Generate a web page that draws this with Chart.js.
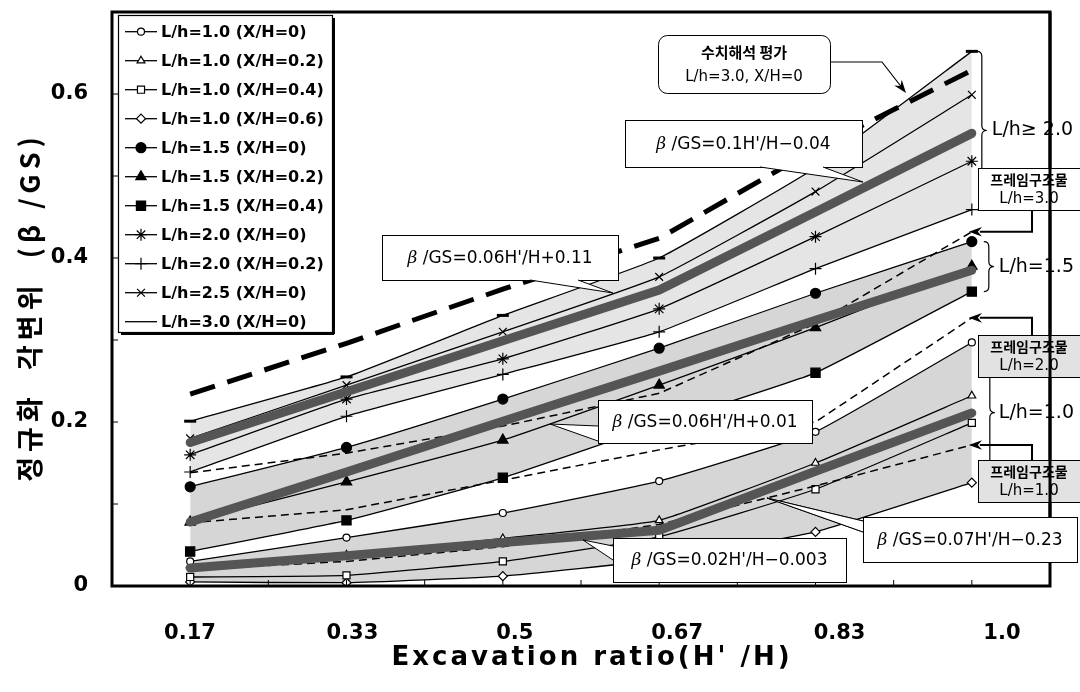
<!DOCTYPE html>
<html>
<head>
<meta charset="utf-8">
<script src="https://cdn.jsdelivr.net/npm/chart.js@4.4.0/dist/chart.umd.min.js"></script>
<style>
html, body { margin: 0; padding: 0; background: #fff; }
</style>
</head>
<body>
<canvas id="myChart" width="1080" height="692"></canvas>
<script>
// excavation ratio H'/H (where the points sit) and the printed labels
const ratio = [1/6, 2/6, 3/6, 4/6, 5/6, 1];
const xLabels = ['0.17', '0.33', '0.5', '0.67', '0.83', '1.0'];
const xMinor = [1/12, 2/12, 3/12, 4/12, 5/12, 6/12, 7/12, 8/12, 9/12, 10/12, 11/12, 12/12, 13/12];
const yTickVals = [0, 0.1, 0.2, 0.3, 0.4, 0.5, 0.6, 0.7];
const yLabels = ['0', '', '0.2', '', '0.4', '', '0.6', ''];

// normalised angular distortion beta/GS
const lh10_x0  = [0.030, 0.059, 0.089, 0.128, 0.188, 0.297];
const lh10_x02 = [0.025, 0.038, 0.058, 0.080, 0.150, 0.232];
const lh10_x04 = [0.011, 0.013, 0.030, 0.060, 0.118, 0.199];
const lh10_x06 = [0.005, 0.004, 0.012, 0.032, 0.066, 0.126];
const lh15_x0  = [0.121, 0.169, 0.228, 0.290, 0.357, 0.420];
const lh15_x02 = [0.078, 0.127, 0.178, 0.245, 0.315, 0.390];
const lh15_x04 = [0.042, 0.080, 0.132, 0.197, 0.260, 0.359];
const lh20_x0  = [0.160, 0.228, 0.277, 0.338, 0.426, 0.518];
const lh20_x02 = [0.139, 0.207, 0.258, 0.310, 0.387, 0.459];
const lh25_x0  = [0.180, 0.245, 0.310, 0.377, 0.481, 0.599];
const lh30_x0  = [0.201, 0.255, 0.330, 0.400, 0.510, 0.652];

// regression lines (thick grey)
const fitHigh = [0.175, 0.237, 0.299, 0.361, 0.456, 0.552];
const fitMid  = [0.078, 0.139, 0.201, 0.262, 0.324, 0.385];
const fitLow  = [0.022, 0.037, 0.053, 0.068, 0.140, 0.211];

// numerical analysis and frame structures (dashed)
const numeric30 = [0.234, 0.296, 0.362, 0.424, 0.533, 0.629];
const frame30 = [0.138, 0.162, 0.195, 0.235, 0.320, 0.432];
const frame20 = [0.077, 0.093, 0.129, 0.166, 0.200, 0.327];
const frame10 = [0.020, 0.030, 0.048, 0.075, 0.122, 0.172];

const bandGray = 'rgba(0,0,0,0.16)';

function pts(vals) {
    return vals.map((v, i) => ({x: ratio[i], y: v}));
}

function series(label, vals, style, filled, radius) {
    return {
        label: label, data: pts(vals),
        borderColor: '#000', borderWidth: 1.3, tension: 0.12,
        pointStyle: style, pointRadius: radius,
        pointBackgroundColor: filled ? '#000' : '#fff',
        pointBorderColor: '#000', pointBorderWidth: 1.2,
        fill: false, order: 3
    };
}

function thick(label, vals) {
    return {label: label, data: pts(vals), borderColor: '#555', borderWidth: 9,
        borderCapStyle: 'round', pointRadius: 0, tension: 0, fill: false, order: 1};
}

function dashed(label, vals) {
    return {label: label, data: pts(vals), borderColor: '#000', borderWidth: 1.5,
        borderDash: [8, 5], pointRadius: 0, tension: 0, fill: false, order: 2};
}

let datasets = [
    series('L/h=1.0 (X/H=0)', lh10_x0, 'circle', false, 3.5),
    series('L/h=1.0 (X/H=0.2)', lh10_x02, 'triangle', false, 4.5),
    series('L/h=1.0 (X/H=0.4)', lh10_x04, 'rect', false, 5),
    series('L/h=1.0 (X/H=0.6)', lh10_x06, 'rectRot', false, 4.5),
    series('L/h=1.5 (X/H=0)', lh15_x0, 'circle', true, 5),
    series('L/h=1.5 (X/H=0.2)', lh15_x02, 'triangle', true, 6),
    series('L/h=1.5 (X/H=0.4)', lh15_x04, 'rect', true, 6.5),
    series('L/h=2.0 (X/H=0)', lh20_x0, 'star', false, 6),
    series('L/h=2.0 (X/H=0.2)', lh20_x02, 'cross', false, 6),
    series('L/h=2.5 (X/H=0)', lh25_x0, 'crossRot', false, 5.5),
    series('L/h=3.0 (X/H=0)', lh30_x0, 'line', false, 6),
    thick('fit L/h>=2.0', fitHigh),
    thick('fit L/h=1.5', fitMid),
    thick('fit L/h=1.0', fitLow),
    {label: 'numeric', data: pts(numeric30), borderColor: '#000', borderWidth: 5,
        borderDash: [26, 13], pointRadius: 0, tension: 0, fill: false, order: 0},
    dashed('frame L/h=3.0', frame30),
    dashed('frame L/h=2.0', frame20),
    dashed('frame L/h=1.0', frame10)
];
datasets[10].pointBorderWidth = 3;
datasets[0].fill = {target: 3, above: bandGray, below: bandGray};
datasets[4].fill = {target: 6, above: bandGray, below: bandGray};
datasets[10].fill = {target: 8, above: 'rgba(0,0,0,0.1)', below: 'rgba(0,0,0,0.1)'};

const sans = 'DejaVu Sans';
const kr = '"Noto Sans CJK KR"';

function seg(ctx, x1, y1, x2, y2) {
    ctx.beginPath(); ctx.moveTo(x1, y1); ctx.lineTo(x2, y2); ctx.stroke();
}

function arrowHead(ctx, fx, fy, tx, ty) {
    const ang = Math.atan2(ty - fy, tx - fx);
    ctx.beginPath();
    ctx.moveTo(tx, ty);
    ctx.lineTo(tx - 14 * Math.cos(ang - 0.35), ty - 14 * Math.sin(ang - 0.35));
    ctx.lineTo(tx - 9 * Math.cos(ang), ty - 9 * Math.sin(ang));
    ctx.lineTo(tx - 14 * Math.cos(ang + 0.35), ty - 14 * Math.sin(ang + 0.35));
    ctx.closePath();
    ctx.fill();
}

function betaText(ctx, rest, cx, cy) {
    ctx.font = 'italic 17px "DejaVu Serif"';
    const wb = ctx.measureText('\u03b2 ').width;
    ctx.font = '17px ' + sans;
    const wr = ctx.measureText(rest).width;
    let x = cx - (wb + wr) / 2;
    ctx.textAlign = 'left'; ctx.textBaseline = 'middle';
    ctx.font = 'italic 17px "DejaVu Serif"';
    ctx.fillText('\u03b2 ', x, cy);
    ctx.font = '17px ' + sans;
    ctx.fillText(rest, x + wb, cy);
}

const callouts = [
    {box: [625, 120, 862, 167], wedge: [[760, 167], [823, 167], [863, 182]], text: "/GS=0.1H'/H\u22120.04"},
    {box: [382, 235, 618, 280], wedge: [[530, 280], [578, 280], [613, 293]], text: "/GS=0.06H'/H+0.11"},
    {box: [598, 400, 812, 443], wedge: [[598, 426], [598, 441], [550, 424]], text: "/GS=0.06H'/H+0.01"},
    {box: [613, 538, 846, 582], wedge: [[613, 546], [613, 560], [583, 540]], text: "/GS=0.02H'/H\u22120.003"},
    {box: [863, 517, 1077, 562], wedge: [[863, 521], [863, 532], [767, 498]], text: "/GS=0.07H'/H\u22120.23"}
];

function drawCallout(ctx, c) {
    const b = c.box, w = c.wedge;
    ctx.fillStyle = '#fff'; ctx.strokeStyle = '#000'; ctx.lineWidth = 1;
    ctx.fillRect(b[0], b[1], b[2] - b[0], b[3] - b[1]);
    ctx.strokeRect(b[0] + 0.5, b[1] + 0.5, b[2] - b[0], b[3] - b[1]);
    ctx.beginPath();
    ctx.moveTo(w[0][0], w[0][1]); ctx.lineTo(w[2][0], w[2][1]); ctx.lineTo(w[1][0], w[1][1]);
    ctx.closePath(); ctx.fill();
    seg(ctx, w[0][0], w[0][1], w[2][0], w[2][1]);
    seg(ctx, w[1][0], w[1][1], w[2][0], w[2][1]);
    ctx.fillStyle = '#000';
    betaText(ctx, c.text, (b[0] + b[2]) / 2, (b[1] + b[3]) / 2 + 1);
}

function brace(ctx, x, y1, y2) {
    const w = 5, ym = (y1 + y2) / 2;
    ctx.beginPath();
    ctx.moveTo(x, y1);
    ctx.quadraticCurveTo(x + w, y1, x + w, y1 + w);
    ctx.lineTo(x + w, ym - w);
    ctx.quadraticCurveTo(x + w, ym, x + 2 * w, ym);
    ctx.quadraticCurveTo(x + w, ym, x + w, ym + w);
    ctx.lineTo(x + w, y2 - w);
    ctx.quadraticCurveTo(x + w, y2, x, y2);
    ctx.stroke();
    return ym;
}

function frameBox(ctx, b, fill, line2) {
    ctx.fillStyle = fill; ctx.strokeStyle = '#000'; ctx.lineWidth = 1;
    ctx.fillRect(b[0], b[1], b[2] - b[0], b[3] - b[1]);
    ctx.strokeRect(b[0] + 0.5, b[1] + 0.5, b[2] - b[0], b[3] - b[1]);
    ctx.fillStyle = '#000'; ctx.textAlign = 'center'; ctx.textBaseline = 'middle';
    const cx = (b[0] + b[2]) / 2;
    ctx.font = 'bold 14px ' + kr;
    ctx.fillText('프레임구조물', cx, b[1] + 12);
    ctx.font = '15px ' + sans;
    ctx.fillText(line2, cx, b[1] + 31);
}

const decor = {
    id: 'decor',
    afterDatasetsDraw(chart) {
        const ctx = chart.ctx, a = chart.chartArea;
        const xs = chart.scales.x, ys = chart.scales.y;
        const lastX = xs.getPixelForValue(ratio[ratio.length - 1]);
        const Y = v => ys.getPixelForValue(v);
        const last = arr => arr[arr.length - 1];
        ctx.save();
        ctx.strokeStyle = '#000'; ctx.lineWidth = 1;
        xs.ticks.forEach(t => {
            const px = xs.getPixelForValue(t.value);
            seg(ctx, px, a.bottom, px, a.bottom - 6);
        });
        ys.ticks.forEach(t => {
            const py = ys.getPixelForValue(t.value);
            seg(ctx, a.left, py, a.left + 6, py);
        });

        // rounded note for the numerical analysis line
        ctx.fillStyle = '#fff'; ctx.lineWidth = 1;
        ctx.beginPath(); ctx.roundRect(658.5, 35.5, 172, 58, 9); ctx.fill(); ctx.stroke();
        ctx.fillStyle = '#000'; ctx.textAlign = 'center'; ctx.textBaseline = 'middle';
        ctx.font = 'bold 15px ' + kr;
        ctx.fillText('수치해석 평가', 744, 52);
        ctx.font = '15px ' + sans;
        ctx.fillText('L/h=3.0, X/H=0', 744, 77);
        ctx.lineWidth = 1.2;
        ctx.beginPath(); ctx.moveTo(830, 62); ctx.lineTo(882, 62); ctx.lineTo(903, 89); ctx.stroke();
        arrowHead(ctx, 882, 62, 906, 93);

        callouts.forEach(c => drawCallout(ctx, c));

        // braces and group labels
        ctx.strokeStyle = '#000'; ctx.lineWidth = 1.2; ctx.fillStyle = '#000';
        ctx.textAlign = 'left'; ctx.textBaseline = 'middle';
        ctx.font = '19px ' + sans;
        let ym = brace(ctx, lastX + 5, Y(last(lh30_x0)), Y(last(lh20_x02)));
        ctx.fillText('L/h\u2265 2.0', lastX + 20, ym);
        ym = brace(ctx, lastX + 12, Y(last(lh15_x0)), Y(last(lh15_x04)));
        ctx.fillText('L/h=1.5', lastX + 27, ym);
        ym = brace(ctx, lastX + 13, Y(last(lh10_x0)), Y(last(lh10_x06)));
        ctx.fillText('L/h=1.0', lastX + 27, ym);

        // plot frame
        ctx.lineWidth = 3; ctx.strokeStyle = '#000';
        ctx.strokeRect(a.left, a.top, a.right - a.left, a.bottom - a.top);

        // frame-structure boxes with arrows to the dashed lines
        const boxes = [
            {b: [978, 168, 1080, 210], fill: '#fff', t: 'L/h=3.0', v: last(frame30), up: false},
            {b: [978, 335, 1080, 377], fill: '#e2e2e2', t: 'L/h=2.0', v: last(frame20), up: true},
            {b: [978, 460, 1080, 502], fill: '#e2e2e2', t: 'L/h=1.0', v: last(frame10), up: true}
        ];
        boxes.forEach(o => {
            frameBox(ctx, o.b, o.fill, o.t);
            const ax = 1032, ty = Y(o.v), by = o.up ? o.b[1] : o.b[3];
            ctx.lineWidth = 2; ctx.strokeStyle = '#000'; ctx.fillStyle = '#000';
            ctx.beginPath(); ctx.moveTo(ax, by); ctx.lineTo(ax, ty); ctx.lineTo(lastX + 8, ty); ctx.stroke();
            arrowHead(ctx, ax, ty, lastX - 3, ty);
        });
        ctx.lineWidth = 3;
        seg(ctx, a.right, a.top, a.right, 517);
        drawCallout(ctx, callouts[4]);
        ctx.restore();
    },
    afterDraw(chart) {
        const ctx = chart.ctx;
        ctx.save();
        // legend box
        const lx = 118, ly = 15, lw = 214, lh = 317;
        ctx.fillStyle = '#fff';
        ctx.fillRect(lx, ly, lw, lh);
        ctx.strokeStyle = '#000'; ctx.lineWidth = 1.2;
        ctx.strokeRect(lx + 0.5, ly + 0.5, lw, lh);
        ctx.lineWidth = 2;
        seg(ctx, lx + lw + 2, ly + 3, lx + lw + 2, ly + lh + 2);
        seg(ctx, lx + 3, ly + lh + 2, lx + lw + 2, ly + lh + 2);
        const drawPt = Chart.helpers && Chart.helpers.drawPoint;
        chart.data.datasets.slice(0, 11).forEach((ds, i) => {
            const y = 31.7 + 29 * i;
            ctx.strokeStyle = '#000'; ctx.lineWidth = 1.3;
            seg(ctx, 125, y, 157, y);
            if (ds.pointStyle !== 'line' && drawPt) {
                ctx.fillStyle = ds.pointBackgroundColor;
                ctx.strokeStyle = '#000';
                ctx.lineWidth = ds.pointBorderWidth;
                drawPt(ctx, {pointStyle: ds.pointStyle, radius: ds.pointRadius, rotation: 0,
                    borderWidth: ds.pointBorderWidth}, 141, y);
            }
            ctx.fillStyle = '#000'; ctx.font = 'bold 16px ' + sans;
            ctx.textAlign = 'left'; ctx.textBaseline = 'middle';
            ctx.fillText(ds.label, 161, y + 1);
        });

        // axis titles
        ctx.fillStyle = '#000';
        ctx.textAlign = 'center'; ctx.textBaseline = 'middle';
        ctx.font = 'bold 26px ' + sans;
        ctx.letterSpacing = '3px';
        ctx.fillText("Excavation ratio(H' /H)", 592, 658);
        ctx.translate(30, 307);
        ctx.rotate(-Math.PI / 2);
        ctx.font = 'bold 27px ' + kr;
        ctx.letterSpacing = '5px';
        ctx.fillText('정규화  각변위  (\u03b2 /GS)', 0, 0);
        ctx.restore();
    }
};

const chart = new Chart(document.getElementById('myChart'), {
    type: 'line',
    data: {datasets: datasets},
    plugins: [decor],
    options: {
        responsive: false,
        animation: false,
        events: [],
        layout: {padding: {left: 0, right: 30, top: 12, bottom: 0}},
        plugins: {
            legend: {display: false},
            tooltip: {enabled: false},
            filler: {drawTime: 'beforeDatasetsDraw'}
        },
        scales: {
            x: {
                type: 'linear', position: 'bottom', min: 1/12, max: 13/12,
                afterBuildTicks: s => { s.ticks = xMinor.map(v => ({value: v})); },
                ticks: {display: false},
                grid: {display: false, drawTicks: false},
                border: {display: false},
                afterFit: s => { s.height = 0; s.paddingLeft = 0; s.paddingRight = 0; }
            },
            xl: {
                type: 'linear', position: 'bottom', min: 0.52, max: 6.296,
                afterBuildTicks: s => { s.ticks = xLabels.map((l, i) => ({value: i + 1})); },
                ticks: {
                    callback: v => xLabels[Math.round(v) - 1],
                    autoSkip: false, maxRotation: 0, padding: 35,
                    color: '#000', font: {family: sans, size: 21, weight: 'bold'}
                },
                grid: {display: false, drawTicks: false},
                border: {display: false},
                afterFit: s => { s.height = 106; s.paddingLeft = 0; s.paddingRight = 0; }
            },
            y: {
                type: 'linear', min: 0, max: 0.7,
                afterBuildTicks: s => { s.ticks = yTickVals.map(v => ({value: v})); },
                ticks: {
                    callback: (v, i) => yLabels[i],
                    padding: 24, color: '#000',
                    font: {family: sans, size: 21, weight: 'bold'}
                },
                grid: {display: false, drawTicks: false},
                border: {display: false},
                afterFit: s => { s.width = 112; s.paddingTop = 0; s.paddingBottom = 0; }
            }
        }
    }
});
</script>
</body>
</html>
